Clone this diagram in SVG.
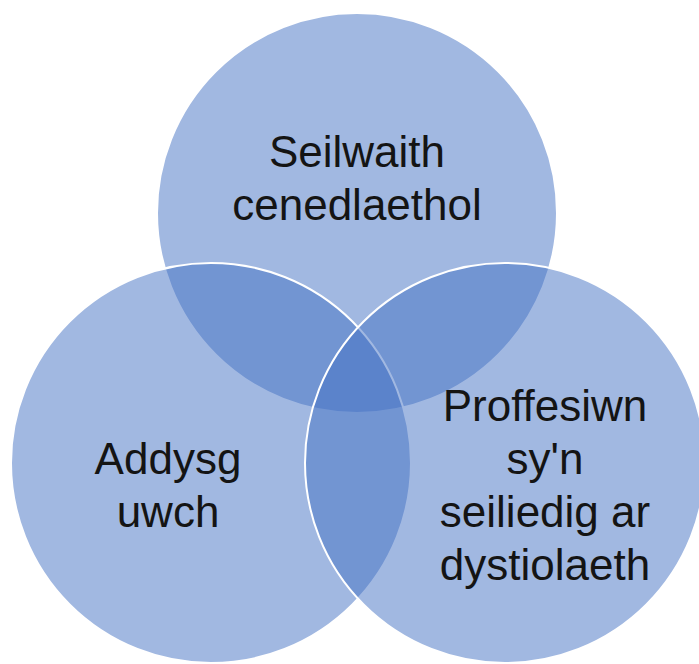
<svg xmlns="http://www.w3.org/2000/svg" width="699" height="664" viewBox="0 0 699 664">
<style>
.c{fill:#4472C4;fill-opacity:0.5;stroke:#fff;stroke-width:2}
.t{font-family:"Liberation Sans",Arial,sans-serif;font-size:44px;fill:#141414;text-anchor:middle}
</style>
<rect width="699" height="664" fill="#fff"/>
<g id="node-top">
<circle class="c" cx="357" cy="213" r="200"/>
</g>
<g id="node-left">
<circle class="c" cx="211" cy="463" r="200"/>
</g>
<g id="node-right">
<circle class="c" cx="505" cy="463" r="200"/>
</g>
<g id="connectors"></g>
<g id="labels">
<text class="t" x="357" y="167">Seilwaith</text>
<text class="t" x="357" y="220">cenedlaethol</text>
<text class="t" x="168" y="474">Addysg</text>
<text class="t" x="168" y="527">uwch</text>
<text class="t" x="545" y="421">Proffesiwn</text>
<text class="t" x="545" y="474">sy'n</text>
<text class="t" x="545" y="527">seiliedig ar</text>
<text class="t" x="545" y="580">dystiolaeth</text>
</g>
</svg>
